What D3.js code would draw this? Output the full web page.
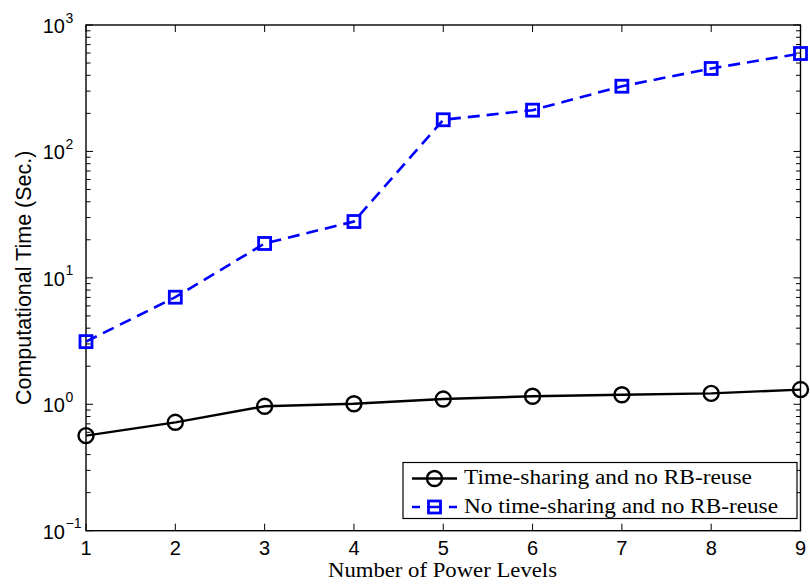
<!DOCTYPE html>
<html>
<head>
<meta charset="utf-8">
<script src="https://cdn.jsdelivr.net/npm/d3@7"></script>
<style>
  html, body { margin: 0; padding: 0; background: #fff; }
  svg { display: block; }
</style>
</head>
<body>
<svg id="chart" width="810" height="586"></svg>
<script>
// Number of power levels on the x axis
const powerLevels = [1, 2, 3, 4, 5, 6, 7, 8, 9];
// Computational time in seconds, per scheme
const timeSharing = [0.565, 0.72, 0.964, 1.01, 1.10, 1.157, 1.19, 1.22, 1.307];
const noTimeSharing = [3.13, 7.03, 18.7, 27.9, 178, 212, 328, 453, 595];
// Axis tick values
const xTicks = [1, 2, 3, 4, 5, 6, 7, 8, 9];
const yDecades = [-1, 0, 1, 2, 3];
const seriesNames = ["Time-sharing and no RB-reuse", "No time-sharing and no RB-reuse"];

const svg = d3.select("#chart");
const plotLeft = 86, plotRight = 800.5, plotTop = 25, plotBottom = 530.7;

const x = d3.scaleLinear().domain([1, 9]).range([plotLeft, plotRight]);
const y = d3.scaleLog().domain([0.1, 1000]).range([plotBottom, plotTop]);

const sans = "'Liberation Sans', Arial, sans-serif";
const serif = "'Liberation Serif', 'Times New Roman', serif";

// Minor and major ticks on all four sides, pointing inward
const minorVals = [];
for (let d = -1; d < 3; d++) for (let m = 2; m <= 9; m++) minorVals.push(m * Math.pow(10, d));
const majorVals = yDecades.map(e => Math.pow(10, e));

const ticks = svg.append("g").attr("stroke", "#000").attr("stroke-width", 1);
minorVals.forEach(v => {
  ticks.append("line").attr("x1", plotLeft).attr("x2", plotLeft + 4.5).attr("y1", y(v)).attr("y2", y(v));
  ticks.append("line").attr("x1", plotRight).attr("x2", plotRight - 4.5).attr("y1", y(v)).attr("y2", y(v));
});
majorVals.forEach(v => {
  ticks.append("line").attr("x1", plotLeft).attr("x2", plotLeft + 7).attr("y1", y(v)).attr("y2", y(v));
  ticks.append("line").attr("x1", plotRight).attr("x2", plotRight - 7).attr("y1", y(v)).attr("y2", y(v));
});
xTicks.forEach(v => {
  ticks.append("line").attr("x1", x(v)).attr("x2", x(v)).attr("y1", plotBottom).attr("y2", plotBottom - 7);
  ticks.append("line").attr("x1", x(v)).attr("x2", x(v)).attr("y1", plotTop).attr("y2", plotTop + 7);
});

// Frame
svg.append("rect")
  .attr("x", plotLeft).attr("y", plotTop)
  .attr("width", plotRight - plotLeft).attr("height", plotBottom - plotTop)
  .attr("fill", "none").attr("stroke", "#000").attr("stroke-width", 1.4);

// X tick labels
svg.append("g").selectAll("text").data(xTicks).join("text")
  .attr("x", d => x(d)).attr("y", 555)
  .attr("text-anchor", "middle")
  .attr("font-family", sans).attr("font-size", 20)
  .text(d => d);

// Y tick labels as 10 with superscript exponent
const yl = svg.append("g").attr("font-family", sans);
yDecades.forEach(e => {
  const yy = y(Math.pow(10, e));
  yl.append("text").attr("x", 65).attr("y", yy + 8)
    .attr("text-anchor", "end").attr("font-size", 20).text("10");
  yl.append("text").attr("x", 65.5).attr("y", yy - 2.5)
    .attr("text-anchor", "start").attr("font-size", 14)
    .text(e < 0 ? "\u2212" + Math.abs(e) : String(e));
});

// Axis titles
svg.append("text")
  .attr("transform", `translate(30.5,${(plotTop + plotBottom) / 2}) rotate(-90)`)
  .attr("text-anchor", "middle")
  .attr("font-family", sans).attr("font-size", 21.5)
  .text("Computational Time (Sec.)");

svg.append("text")
  .attr("x", 328).attr("y", 576.7)
  .attr("textLength", 229).attr("lengthAdjust", "spacingAndGlyphs")
  .attr("font-family", serif).attr("font-size", 20.5)
  .text("Number of Power Levels");

// Series lines
const line = d3.line().x((d, i) => x(powerLevels[i])).y(d => y(d));

svg.append("path").datum(noTimeSharing)
  .attr("d", line).attr("fill", "none")
  .attr("stroke", "#0000ff").attr("stroke-width", 2.6)
  .attr("stroke-dasharray", "12,7");

svg.append("path").datum(timeSharing)
  .attr("d", line).attr("fill", "none")
  .attr("stroke", "#000").attr("stroke-width", 2.4);

// Markers
const sq = 12;
svg.append("g").selectAll("rect").data(noTimeSharing).join("rect")
  .attr("x", (d, i) => x(powerLevels[i]) - sq / 2)
  .attr("y", d => y(d) - sq / 2)
  .attr("width", sq).attr("height", sq)
  .attr("fill", "none").attr("stroke", "#0000ff").attr("stroke-width", 2.8);

svg.append("g").selectAll("circle").data(timeSharing).join("circle")
  .attr("cx", (d, i) => x(powerLevels[i])).attr("cy", d => y(d))
  .attr("r", 7.5)
  .attr("fill", "none").attr("stroke", "#000").attr("stroke-width", 2.4);

// Legend
const lg = svg.append("g");
lg.append("rect")
  .attr("x", 403).attr("y", 462.5).attr("width", 394).attr("height", 56)
  .attr("fill", "#fff").attr("stroke", "#000").attr("stroke-width", 1.2);

const row1 = 478.5, row2 = 507;
lg.append("line").attr("x1", 412).attr("x2", 457).attr("y1", row1).attr("y2", row1)
  .attr("stroke", "#000").attr("stroke-width", 2.4);
lg.append("circle").attr("cx", 434.5).attr("cy", row1).attr("r", 7.5)
  .attr("fill", "none").attr("stroke", "#000").attr("stroke-width", 2.4);

lg.append("line").attr("x1", 412).attr("x2", 457).attr("y1", row2).attr("y2", row2)
  .attr("stroke", "#0000ff").attr("stroke-width", 2.6)
  .attr("stroke-dasharray", "8,7,15,7,8");
lg.append("rect").attr("x", 434.5 - 6).attr("y", row2 - 6).attr("width", 12).attr("height", 12)
  .attr("fill", "none").attr("stroke", "#0000ff").attr("stroke-width", 2.8);

lg.append("text").attr("x", 464).attr("y", 484)
  .attr("textLength", 288).attr("lengthAdjust", "spacingAndGlyphs")
  .attr("font-family", serif).attr("font-size", 20.5)
  .text(seriesNames[0]);
lg.append("text").attr("x", 464).attr("y", 512.5)
  .attr("textLength", 314).attr("lengthAdjust", "spacingAndGlyphs")
  .attr("font-family", serif).attr("font-size", 20.5)
  .text(seriesNames[1]);
</script>
</body>
</html>
